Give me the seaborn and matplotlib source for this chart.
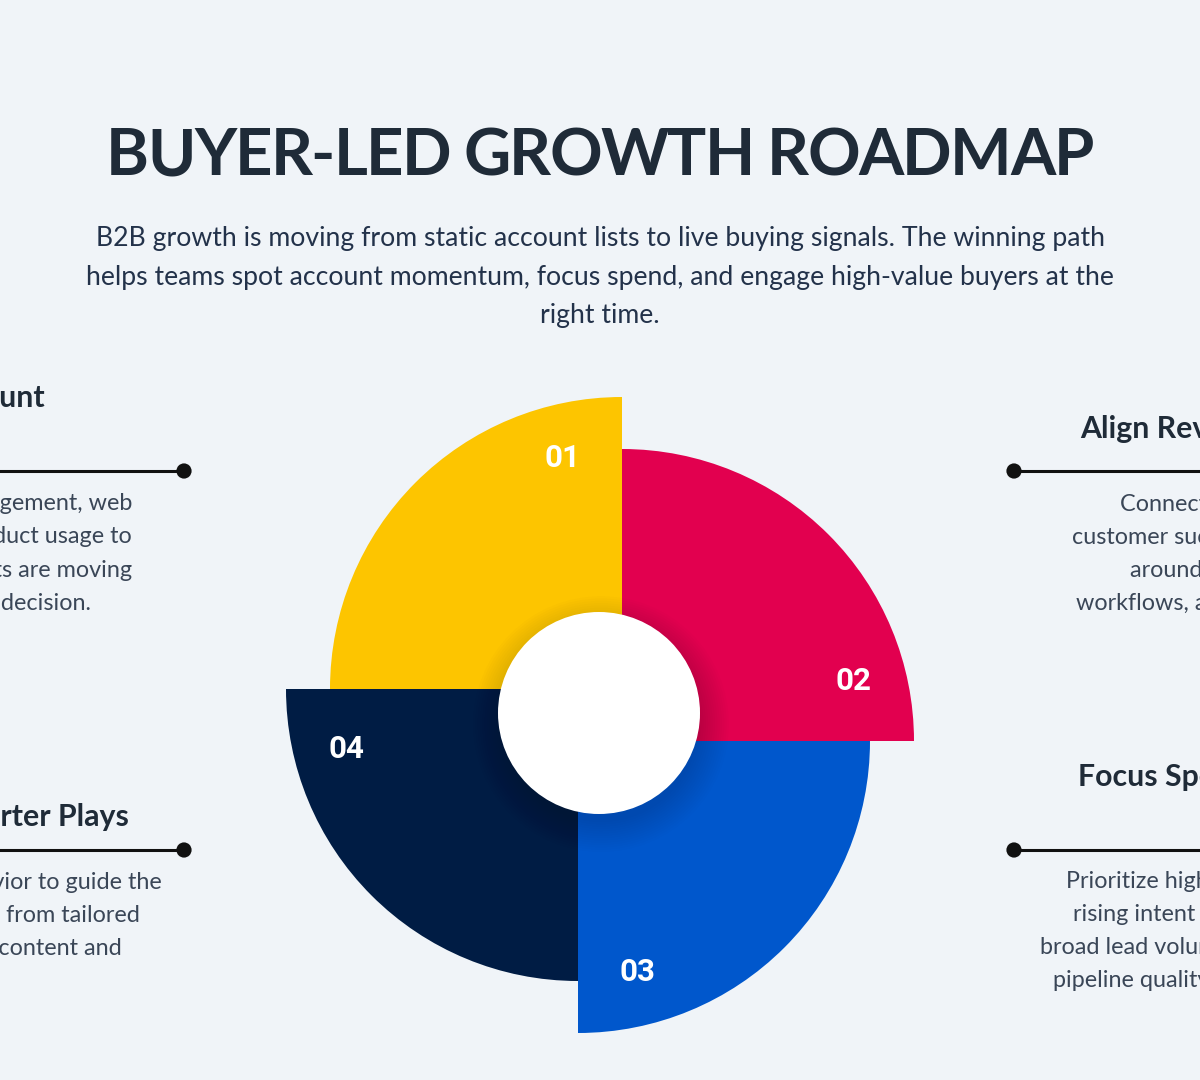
import numpy as np
import matplotlib
matplotlib.use("Agg")
import matplotlib.pyplot as plt
from matplotlib.patches import Circle
from matplotlib.font_manager import FontProperties, findfont, get_font
import seaborn as sns

# ================================================
#  Datos del gráfico
# ================================================

step_numbers = ["01", "02", "03", "04"]
step_shares = [25, 25, 25, 25]
step_colors = ["#FDC500", "#E2004F", "#0057CC", "#001C44"]

title = "BUYER-LED GROWTH ROADMAP"
subtitle_lines = [
    "B2B growth is moving from static account lists to live buying signals. The winning path",
    "helps teams spot account momentum, focus spend, and engage high-value buyers at the",
    "right time.",
]

# textos laterales (la parte oculta queda fuera del lienzo)
heading_left_top = "Spot Rising Account"
body_left_top = [
    "Blend intent, engagement, web",
    "visits, and product usage to",
    "see which accounts are moving",
    "toward a decision.",
]
heading_right_top = "Align Revenue Teams"
body_right_top = [
    "Connect sales, marketing, and",
    "customer success teams",
    "around shared signals,",
    "workflows, and goals.",
]
heading_right_bottom = "Focus Spend Where It Counts"
body_right_bottom = [
    "Prioritize high-fit accounts with",
    "rising intent instead of chasing",
    "broad lead volume that dilutes",
    "pipeline quality.",
]
heading_left_bottom = "Run Smarter Plays"
body_left_bottom = [
    "Use account behavior to guide the",
    "next best action \u2013 from tailored",
    "outreach to timely content and",
]

# ================================================
#  Estilo y lienzo
# ================================================

BG = "#F0F4F8"
DARK = "#1F2B38"
SUB = "#23324A"
BODY = "#3A4657"

sns.set_theme(style="white")
plt.rcParams["font.family"] = ["Lato", "DejaVu Sans"]

W, H = 1200, 1080


def Y(y):
    # paso de coordenadas de pantalla (y hacia abajo) a datos
    return H - y


fig = plt.figure(figsize=(12, 10.8), dpi=100, facecolor=BG)
ax = fig.add_axes([0, 0, 1, 1])
renderer = fig.canvas.get_renderer()

# ================================================
#  Cuartos de círculo desplazados (molinete)
# ================================================

cx, cy = 600, Y(715)
R = 292
palette = sns.color_palette(step_colors)
wedges, _ = ax.pie(step_shares, colors=palette, radius=R, center=(cx, cy),
                   startangle=180, counterclock=False,
                   wedgeprops=dict(linewidth=0))

offsets = [(22, 26), (22, -26), (-22, -26), (-22, 26)]
for w, (dx, dy), num in zip(wedges, offsets, step_numbers):
    wx, wy = cx + dx, cy + dy
    w.set_center((wx, wy))
    ang = np.deg2rad(w.theta1 + 14.5)
    ax.text(wx + 239 * np.cos(ang), wy + 239 * np.sin(ang), num,
            color="white", fontsize=22.5, fontweight="bold", family="Roboto",
            ha="center", va="center", zorder=6)

# sombra suave y círculo blanco central
for k in range(14):
    ax.add_patch(Circle((cx + 1, cy - 9), 98 + 2.3 * k, color="#0A1630",
                        alpha=0.012, lw=0, zorder=3))
ax.add_patch(Circle((cx - 1, Y(713)), 101, color="white", lw=0, zorder=4))

# ================================================
#  Título con espaciado entre letras
# ================================================

fp_title = FontProperties(family="Lato", weight="bold", size=47)
font = get_font(findfont(fp_title))
font.set_size(47, 100)
adv = [font.load_char(ord(c)).linearHoriAdvance / 65536 for c in title]
title_width = 988
track = (title_width - sum(adv)) / (len(title) - 1)
x = 600 - title_width / 2
for c, a in zip(title, adv):
    ax.text(x + a / 2, Y(175), c, fontproperties=fp_title, color=DARK,
            ha="center", va="baseline")
    x += a + track

# subtítulo, ajusto el tamaño al ancho de las dos primeras líneas
t0 = ax.text(600, Y(246), subtitle_lines[0], fontsize=19, color=SUB,
             ha="center", va="baseline")
sub_size = 19 * 1010 / t0.get_window_extent(renderer).width
t0.set_fontsize(sub_size)
for line, by in zip(subtitle_lines[1:], [285, 323]):
    ax.text(600, Y(by), line, fontsize=sub_size, color=SUB,
            ha="center", va="baseline")

# ================================================
#  Bloques laterales
# ================================================

# tamaño del cuerpo según el ancho de "content and", títulos según "Align Rev"
tb = ax.text(0, 0, "content and", fontsize=16)
body_size = 16 * 124 / tb.get_window_extent(renderer).width
tb.remove()
th = ax.text(0, 0, "Align Rev", fontsize=21, fontweight="bold")
head_size = 21 * 128 / th.get_window_extent(renderer).width
th.remove()


def heading(x, y, s, ha):
    ax.text(x, Y(y), s, fontsize=head_size, fontweight="bold", color=DARK,
            ha=ha, va="baseline")


def body(xs, ys, lines, ha):
    for xx, yy, s in zip(xs, ys, lines):
        ax.text(xx, Y(yy), s, fontsize=body_size, color=BODY,
                ha=ha, va="baseline")


heading(45, 407, heading_left_top, "right")
body([132, 132, 132, 91], [510, 543, 577, 610], body_left_top, "right")

heading(1080, 438, heading_right_top, "left")
body([1120, 1072, 1130, 1076], [511, 544, 577, 610], body_right_top, "left")

heading(1078, 786, heading_right_bottom, "left")
body([1066, 1073, 1040, 1053], [888, 921, 954, 987], body_right_bottom, "left")

heading(129, 826, heading_left_bottom, "right")
body([162, 140, 122], [889, 922, 955], body_left_bottom, "right")

# líneas con punto
rule_segments = [((-10, 184), 471), ((1014, 1210), 471),
                 ((-10, 184), 850), ((1014, 1210), 850)]
for (x0, x1), ry in rule_segments:
    ax.plot([x0, x1], [Y(ry), Y(ry)], color="#111111", lw=2.2,
            solid_capstyle="butt", zorder=2)
sns.scatterplot(x=[184, 1014, 184, 1014], y=[Y(471), Y(471), Y(850), Y(850)],
                s=120, color="#111111", edgecolor="none", ax=ax, zorder=3,
                legend=False)

ax.set_xlim(0, W)
ax.set_ylim(0, H)
ax.set_aspect("equal")
ax.axis("off")

fig.savefig("out.png", dpi=100, facecolor=BG)
